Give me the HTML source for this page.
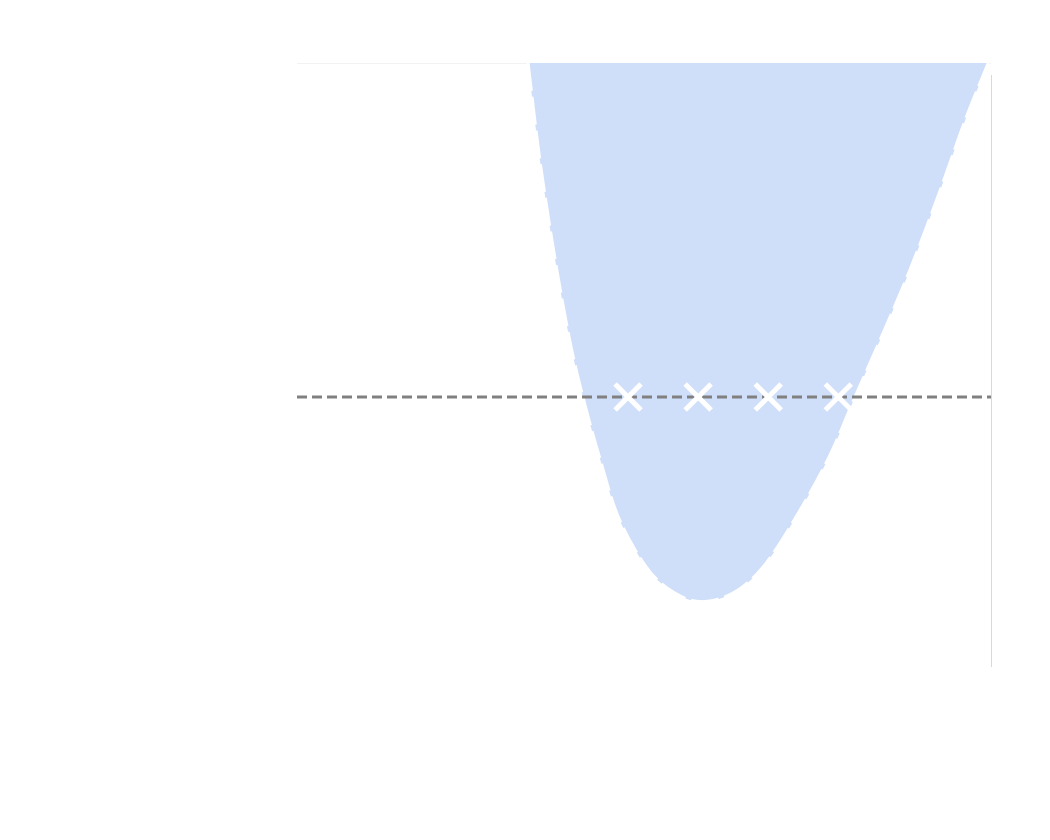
<!DOCTYPE html>
<html><head><meta charset="utf-8"><style>
html,body{margin:0;padding:0;background:#fff;width:1050px;height:840px;overflow:hidden}
svg{display:block}
</style></head><body>
<svg id="chart" width="1050" height="840">
<defs><clipPath id="plotclip"><rect x="297" y="63" width="694" height="604"/></clipPath></defs>
<line x1="297" y1="63.5" x2="991" y2="63.5" stroke="#f2f2f2" stroke-width="1"/>
<line x1="991.5" y1="75" x2="991.5" y2="667" stroke="#d9d9d9" stroke-width="1"/>
<g id="plot" clip-path="url(#plotclip)"></g>
</svg>
<script>
const curveX=[3.33,3.50,3.72,3.93,4.12,4.37,4.65,5.09,5.55,5.93,6.35,6.76,7.25,7.68,8.04,8.40,8.83,9.27,9.63,9.96];
const curveY=[10.0,8.39,6.74,5.41,4.47,3.43,2.43,1.57,1.16,1.09,1.27,1.72,2.60,3.51,4.47,5.41,6.57,7.90,9.06,10.0];
const markerX=[4.77,5.78,6.79,7.80];
const markerY=[4.47,4.47,4.47,4.47];
const refLineY=[4.47];
const sx=v=>297+v*69.4;
const sy=v=>667-v*60.4;
const NS="http://www.w3.org/2000/svg";
const g=document.getElementById('plot');
function catmull(px,py){
  let d=`M${px[0]},${py[0]}`;
  for(let i=0;i<px.length-1;i++){
    const x0=px[Math.max(i-1,0)],y0=py[Math.max(i-1,0)];
    const x1=px[i],y1=py[i],x2=px[i+1],y2=py[i+1];
    const x3=px[Math.min(i+2,px.length-1)],y3=py[Math.min(i+2,px.length-1)];
    d+=` C${x1+(x2-x0)/6},${y1+(y2-y0)/6} ${x2-(x3-x1)/6},${y2-(y3-y1)/6} ${x2},${y2}`;
  }
  return d;
}
const px=curveX.map(sx),py=curveY.map(sy);
const area=document.createElementNS(NS,'path');
area.setAttribute('d',catmull(px,py)+' Z');
area.setAttribute('fill','#cfdef9');
area.setAttribute('stroke','none');


g.appendChild(area);
const edge=document.createElementNS(NS,'path');
edge.setAttribute('d',catmull(px,py));
edge.setAttribute('fill','none');
edge.setAttribute('stroke','#ffffff');
edge.setAttribute('stroke-width','3');
edge.setAttribute('stroke-dasharray','28 6');


g.appendChild(edge);
const ref=document.createElementNS(NS,'line');
ref.setAttribute('x1',297);ref.setAttribute('x2',991);
ref.setAttribute('y1',sy(refLineY[0]));ref.setAttribute('y2',sy(refLineY[0]));
ref.setAttribute('stroke','#808080');ref.setAttribute('stroke-width','3');
ref.setAttribute('stroke-dasharray','10 5');


g.appendChild(ref);
markerX.forEach((mx,i)=>{
  const cx=sx(mx),cy=sy(markerY[i]),r=13;
  const m=document.createElementNS(NS,'path');
  m.setAttribute('d',`M${cx-r},${cy-r}L${cx+r},${cy+r}M${cx-r},${cy+r}L${cx+r},${cy-r}`);
  m.setAttribute('stroke','#ffffff');m.setAttribute('stroke-width','5');
  
  
  g.appendChild(m);
});
</script>
</body></html>
